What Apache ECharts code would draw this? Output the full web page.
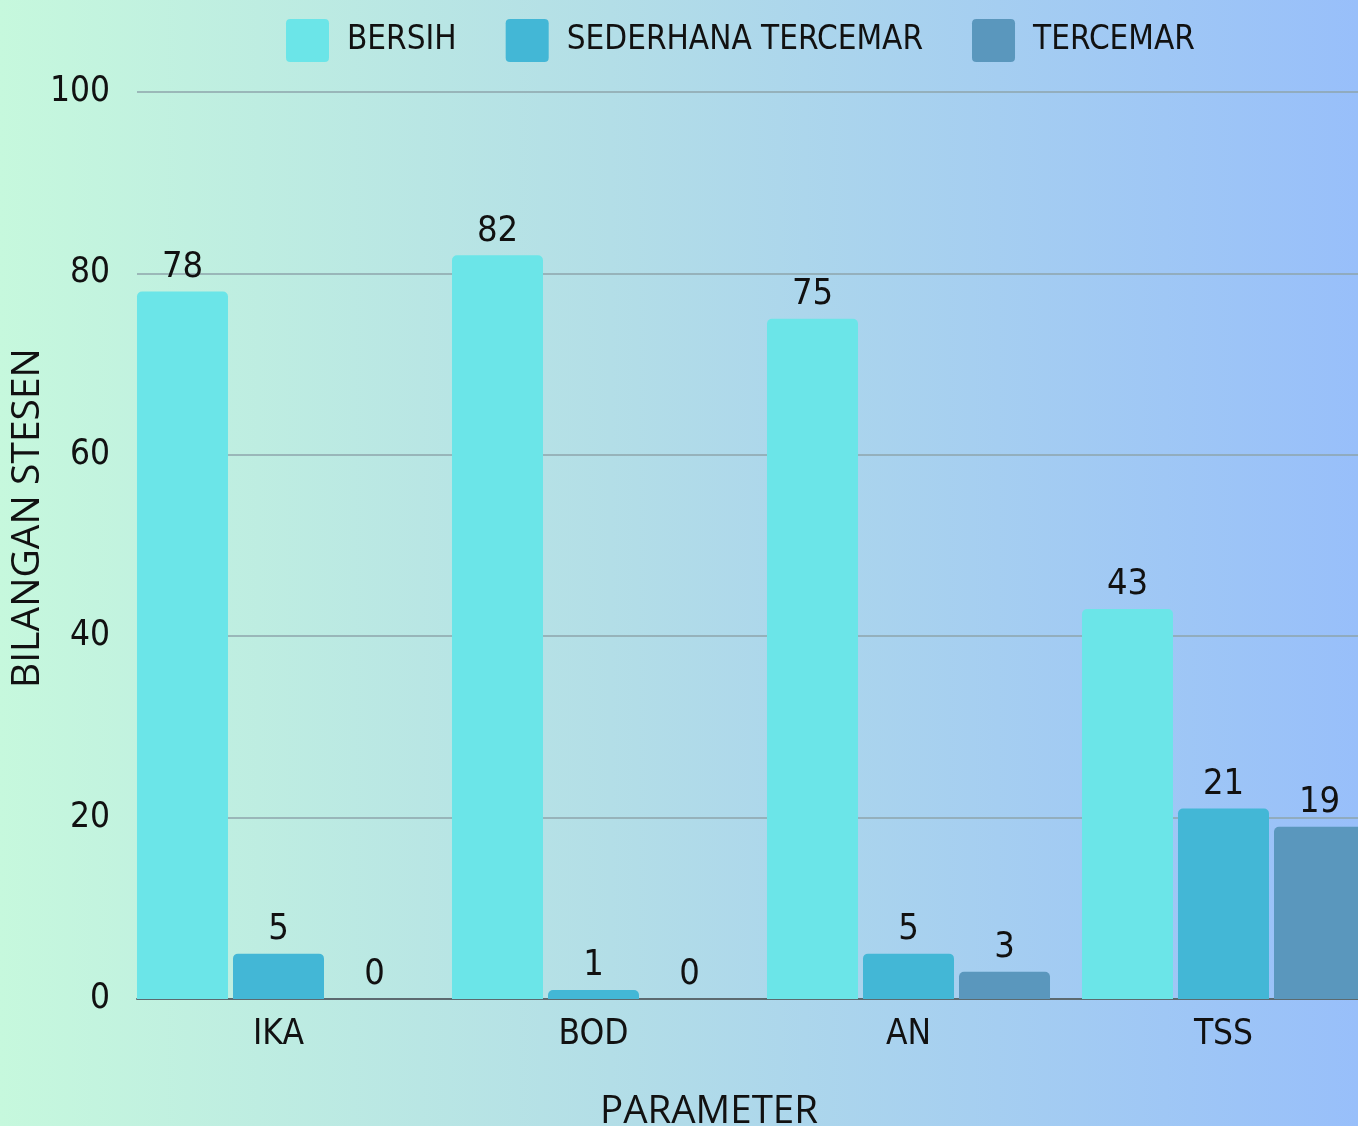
<!DOCTYPE html>
<html>
<head>
<meta charset="utf-8">
<script src="https://cdn.jsdelivr.net/npm/echarts@6/dist/echarts.min.js"></script>
<style>
  html, body { margin: 0; padding: 0; }
  #chart { width: 1358px; height: 1126px; }
</style>
</head>
<body>
<div id="chart"></div>
<script>
var categories = ['IKA', 'BOD', 'AN', 'TSS'];
var seriesNames = ['BERSIH', 'SEDERHANA TERCEMAR', 'TERCEMAR'];
var bersih = [78, 82, 75, 43];
var sederhana = [5, 1, 5, 21];
var tercemar = [0, 0, 3, 19];
var colors = ['#6be5e8', '#43b7d6', '#5a97bd'];

var narrow = '"DejaVu Sans Condensed", "Liberation Sans Narrow", "Noto Sans", sans-serif';
var wide = '"Open Sans", "Noto Sans", sans-serif';

var dom = document.getElementById('chart');
var myChart = echarts.init(dom);

function makeBar(name, data, color) {
    return {
        name: name,
        type: 'bar',
        xAxisIndex: 1,
        yAxisIndex: 1,
        barWidth: 91,
        barGap: '5.5%',
        z: 3,
        itemStyle: { color: color, borderRadius: [5, 5, 0, 0] },
        label: {
            show: true,
            position: 'top',
            distance: 6,
            color: '#111',
            fontSize: 36,
            fontFamily: narrow
        },
        data: data
    };
}

var option = {
    backgroundColor: {
        type: 'linear', x: 0, y: 0, x2: 1, y2: 0,
        colorStops: [
            { offset: 0, color: '#c6f8dd' },
            { offset: 0.45, color: '#b3dee7' },
            { offset: 1, color: '#98bffa' }
        ]
    },
    legend: {
        left: 286,
        top: 19,
        padding: 0,
        icon: 'path://M1,0 L9,0 Q10,0 10,1 L10,9 Q10,10 9,10 L1,10 Q0,10 0,9 L0,1 Q0,0 1,0 Z',
        itemWidth: 43,
        itemHeight: 43,
        itemGap: 49,
        data: seriesNames,
        textStyle: {
            fontSize: 33,
            color: '#111',
            fontFamily: narrow,
            padding: [6, 0, 0, 13]
        }
    },
    grid: [
        { left: 137, right: 0, top: 92, bottom: 127, outerBoundsMode: 'none' },
        { left: 121, width: 1260, top: 92, bottom: 127, outerBoundsMode: 'none' }
    ],
    xAxis: [
        {
            gridIndex: 0,
            type: 'value',
            min: 0,
            max: 1,
            axisLabel: { show: false },
            axisTick: { show: false },
            splitLine: { show: false },
            axisLine: { show: true, onZero: false, lineStyle: { color: '#5c6a70', width: 2 } }
        },
        {
            gridIndex: 1,
            type: 'category',
            data: categories,
            axisLine: { show: false },
            axisTick: { show: false },
            axisLabel: {
                margin: 18,
                fontSize: 35,
                color: '#111',
                fontFamily: narrow
            }
        }
    ],
    yAxis: [
        {
            gridIndex: 0,
            type: 'value',
            min: 0,
            max: 100,
            interval: 20,
            axisLine: { show: false },
            axisTick: { show: false },
            axisLabel: {
                margin: 27,
                fontSize: 35,
                color: '#111',
                fontFamily: narrow,
                padding: [14, 0, 0, 0]
            },
            splitLine: { lineStyle: { color: '#8ea5ab', width: 1.5 } }
        },
        {
            gridIndex: 1,
            type: 'value',
            min: 0,
            max: 100,
            show: false
        }
    ],
    graphic: [
        {
            type: 'text',
            x: 28,
            y: 518,
            rotation: Math.PI / 2,
            style: {
                text: 'BILANGAN STESEN',
                fontSize: 39,
                fontFamily: wide,
                fill: '#111',
                textAlign: 'center',
                textVerticalAlign: 'middle'
            }
        },
        {
            type: 'text',
            x: 709,
            y: 1112,
            style: {
                text: 'PARAMETER',
                fontSize: 38.5,
                fontFamily: wide,
                fill: '#111',
                textAlign: 'center',
                textVerticalAlign: 'middle'
            }
        }
    ],
    series: [
        makeBar(seriesNames[0], bersih, colors[0]),
        makeBar(seriesNames[1], sederhana, colors[1]),
        makeBar(seriesNames[2], tercemar, colors[2])
    ]
};

if (option && typeof option === "object") {
    myChart.setOption(option, true);
}
</script>
</body>
</html>
